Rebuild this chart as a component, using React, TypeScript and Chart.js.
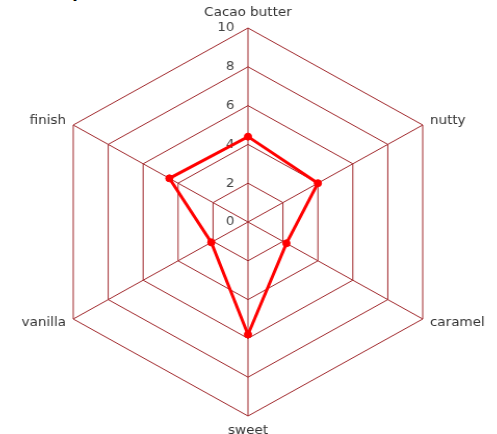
import React, { useEffect, useRef } from 'react';
import { Chart, registerables } from 'chart.js';

Chart.register(...registerables);

const categories = ['Cacao butter', 'nutty', 'caramel', 'sweet', 'vanilla', 'finish'];
const values = [4.4, 4.0, 2.2, 5.8, 2.1, 4.5];
const tickValues = [0, 2, 4, 6, 8, 10];
const titleText = 'Flavor complement';

const FONT = "'DejaVu Sans', sans-serif";

const labelPlugin = {
  id: 'customRadarLabels',
  beforeDatasetsDraw(chart: any) {
    const scale = chart.scales.r;
    const ctx = chart.ctx;
    ctx.save();
    ctx.font = `13px ${FONT}`;
    ctx.textBaseline = 'middle';
    ctx.fillStyle = '#444444';
    ctx.textAlign = 'right';
    tickValues.forEach((v) => {
      const d = scale.getDistanceFromCenterForValue(v);
      ctx.fillText(String(v), scale.xCenter - 13, scale.yCenter - d);
    });
    ctx.fillStyle = '#333333';
    categories.forEach((c, i) => {
      const p0 = scale.getPointPosition(i, scale.drawingArea);
      const dx = p0.x - scale.xCenter;
      const vertical = Math.abs(dx) < 1;
      const p = scale.getPointPosition(i, scale.drawingArea + (vertical ? 15 : 8));
      ctx.textAlign = vertical ? 'center' : dx > 0 ? 'left' : 'right';
      ctx.fillText(c, p.x, p.y);
    });
    ctx.restore();
  },
};

export default function App() {
  const canvasRef = useRef<HTMLCanvasElement | null>(null);

  useEffect(() => {
    if (!canvasRef.current) return;
    const chart = new Chart(canvasRef.current, {
      type: 'radar',
      data: {
        labels: categories,
        datasets: [
          {
            data: values,
            borderColor: '#ff0000',
            backgroundColor: 'rgba(0,0,0,0)',
            borderWidth: 3,
            pointRadius: 3.5,
            pointBorderWidth: 1,
            pointBackgroundColor: '#ff0000',
            pointBorderColor: '#ff0000',
            fill: false,
          },
        ],
      },
      options: {
        animation: false,
        responsive: true,
        maintainAspectRatio: false,
        layout: { padding: { top: 48, bottom: 30, left: 20, right: 20 } },
        plugins: {
          legend: { display: false },
          tooltip: { enabled: false },
        },
        scales: {
          r: {
            min: 0,
            max: 10,
            beginAtZero: true,
            ticks: { display: false, stepSize: 2 },
            pointLabels: { display: false },
            grid: { color: '#a0282c', lineWidth: 1 },
            angleLines: { color: '#a0282c', lineWidth: 1 },
          },
        },
      },
      plugins: [labelPlugin],
    } as any);
    return () => chart.destroy();
  }, []);

  return (
    <div
      style={{
        position: 'fixed',
        top: 0,
        left: 0,
        width: 497,
        height: 434,
        overflow: 'hidden',
        background: '#ffffff',
      }}
    >
      <div
        style={{
          position: 'absolute',
          left: -27,
          top: -17.5,
          font: `bold 16px ${FONT}`,
          lineHeight: '20px',
          color: '#000000',
          whiteSpace: 'nowrap',
        }}
      >
        {titleText}
      </div>
      <div
        style={{
          position: 'absolute',
          left: 8,
          top: -20,
          width: 481,
          height: 466,
          transform: 'scaleX(1.04)',
          transformOrigin: '50% 50%',
        }}
      >
        <canvas ref={canvasRef} />
      </div>
    </div>
  );
}
